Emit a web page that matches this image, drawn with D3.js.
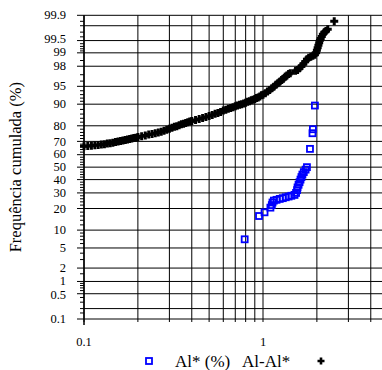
<!DOCTYPE html>
<html>
<head>
<meta charset="utf-8">
<script src="https://cdn.jsdelivr.net/npm/d3@7"></script>
<style>
  body { margin: 0; background: #fff; }
</style>
</head>
<body>
<div id="chart"></div>
<script>
// Al-Al* (black crosses): value and cumulative frequency (%)
const alAlX = [0.100, 0.105, 0.110, 0.115, 0.120, 0.125, 0.130, 0.135, 0.140, 0.145,
  0.150, 0.155, 0.160, 0.165, 0.170, 0.175, 0.180, 0.185, 0.190, 0.195,
  0.200, 0.210, 0.220, 0.230, 0.240, 0.250, 0.260, 0.270, 0.280, 0.290,
  0.300, 0.310, 0.320, 0.330, 0.340, 0.350, 0.360, 0.370, 0.380, 0.390,
  0.400, 0.420, 0.440, 0.460, 0.480, 0.500, 0.520, 0.540, 0.560, 0.580,
  0.600, 0.620, 0.640, 0.660, 0.680, 0.700, 0.720, 0.740, 0.760, 0.780,
  0.800, 0.820, 0.840, 0.860, 0.880, 0.900, 0.920, 0.940, 0.960, 0.980,
  1.00, 1.03, 1.06, 1.09, 1.12, 1.15, 1.18, 1.21, 1.24, 1.27,
  1.30, 1.33, 1.36, 1.39, 1.42, 1.52, 1.56, 1.60, 1.64, 1.68,
  1.72, 1.76, 1.80, 1.85, 1.90, 1.95, 1.98, 2.00, 2.02, 2.04,
  2.06, 2.08, 2.10, 2.13, 2.16, 2.20, 2.25, 2.30, 2.50];
const alAlP = [66.5, 66.6, 66.9, 67.3, 67.4, 67.7, 68.0, 68.4, 68.7, 69.0,
  69.5, 69.9, 70.3, 70.6, 71.0, 71.3, 71.6, 72.0, 72.3, 72.6,
  73.0, 73.5, 74.0, 74.6, 75.0, 75.5, 76.0, 76.5, 77.0, 77.7,
  78.3, 78.8, 79.4, 79.8, 80.3, 80.8, 81.2, 81.6, 82.0, 82.3,
  82.6, 83.1, 83.6, 84.1, 84.6, 85.1, 85.6, 86.1, 86.5, 86.9,
  87.5, 87.9, 88.3, 88.6, 88.9, 89.2, 89.5, 89.8, 90.0, 90.2,
  90.5, 90.8, 91.0, 91.3, 91.5, 91.7, 92.0, 92.2, 92.5, 92.8,
  93.0, 93.4, 93.8, 94.2, 94.6, 94.9, 95.3, 95.6, 95.9, 96.2,
  96.4, 96.7, 96.9, 97.1, 97.2, 97.5, 97.6, 97.8, 98.0, 98.2,
  98.4, 98.6, 98.7, 98.76, 98.83, 98.89, 99.0, 99.13, 99.24, 99.34,
  99.43, 99.51, 99.56, 99.61, 99.66, 99.70, 99.72, 99.75, 99.85];

// Al* (%) (blue squares)
const alStarX = [0.79, 0.95, 1.02, 1.10, 1.12, 1.13, 1.15, 1.19, 1.24, 1.29,
  1.34, 1.39, 1.44, 1.50, 1.53, 1.55, 1.56, 1.58, 1.60, 1.62,
  1.64, 1.66, 1.69, 1.73, 1.76, 1.83, 1.89, 1.90, 1.95];
const alStarP = [7.1, 16.0, 17.9, 20.5, 22.0, 23.6, 24.8, 25.3, 25.9, 26.4,
  27.0, 27.5, 28.0, 28.6, 30.0, 32.0, 34.0, 36.0, 38.0, 40.0,
  42.0, 44.0, 46.0, 48.0, 50.0, 64.5, 75.5, 78.0, 89.5];

const yTickLabels = [99.9, 99.5, 99, 98, 95, 90, 80, 70, 60, 50, 40, 30, 20, 10, 5, 2, 1, 0.5, 0.1];
const yGridValues = [99.9, 99.8, 99.5, 99, 98, 95, 90, 80, 70, 60, 50, 40, 30, 20, 10, 5, 2, 1, 0.5, 0.2, 0.1];
const yMinorTicks = [99.85, 99.8, 99.7, 99.6, 99.4, 99.3, 99.2, 99.1, 98.5, 97, 96, 94, 93, 92, 91,
  88, 86, 84, 82, 78, 76, 74, 72, 68, 66, 64, 62, 58, 56, 54, 52, 48, 46, 44, 42, 38, 36, 34, 32,
  28, 26, 24, 22, 18, 16, 14, 12, 9, 8, 7, 6, 4, 3, 1.5, 0.9, 0.8, 0.7, 0.6, 0.4, 0.3, 0.2, 0.15];
const xTickLabels = [0.1, 1];
const xGridValues = [0.1, 0.2, 0.3, 0.4, 0.5, 0.6, 0.7, 0.8, 0.9, 1, 2, 3, 4, 5];
const legendLabels = ['Al* (%)', 'Al-Al*'];

const width = 382;
const height = 370;
const plot = {left: 84, top: 15.3, bottom: 319};
const serif = '"Liberation Serif", "Times New Roman", Times, serif';

// small label nudges where neighbouring probability labels crowd each other
const labelNudge = {99.5: -1.5, 99: -1, 60: -0.6, 50: -0.4, 40: 0.6, 1: -0.5, 0.5: 0.8};

/**
 * Inverse of the standard normal CDF (Acklam), used for the probability axis
 */
function probit(p) {
  const a = [-39.69683028665376, 220.9460984245205, -275.9285104469687, 138.357751867269, -30.66479806614716, 2.506628277459239];
  const b = [-54.47609879822406, 161.5858368580409, -155.6989798598866, 66.80131188771972, -13.28068155288572];
  const c = [-0.007784894002430293, -0.3223964580411365, -2.400758277161838, -2.549732539343734, 4.374664141464968, 2.938163982698783];
  const d = [0.007784695709041462, 0.3224671290700398, 2.445134137142996, 3.754408661907416];
  const pl = 0.02425;
  let q, r;
  if (p < pl) {
    q = Math.sqrt(-2 * Math.log(p));
    return (((((c[0] * q + c[1]) * q + c[2]) * q + c[3]) * q + c[4]) * q + c[5]) /
      ((((d[0] * q + d[1]) * q + d[2]) * q + d[3]) * q + 1);
  }
  if (p > 1 - pl) {
    q = Math.sqrt(-2 * Math.log(1 - p));
    return -(((((c[0] * q + c[1]) * q + c[2]) * q + c[3]) * q + c[4]) * q + c[5]) /
      ((((d[0] * q + d[1]) * q + d[2]) * q + d[3]) * q + 1);
  }
  q = p - 0.5;
  r = q * q;
  return (((((a[0] * r + a[1]) * r + a[2]) * r + a[3]) * r + a[4]) * r + a[5]) * q /
    (((((b[0] * r + b[1]) * r + b[2]) * r + b[3]) * r + b[4]) * r + 1);
}

const x = d3.scaleLog().domain([0.1, 5]).range([plot.left, plot.left + 179 * Math.log10(50)]);
const z = d3.scaleLinear().domain([probit(0.001), probit(0.999)]).range([plot.bottom, plot.top]);
const y = p => z(probit(p / 100));

const svg = d3.select('#chart')
  .append('svg')
  .attr('width', width)
  .attr('height', height)
  .attr('font-family', serif);

// Grid lines
svg.append('g')
  .selectAll('line')
  .data(yGridValues)
  .enter()
  .append('line')
  .attr('x1', plot.left)
  .attr('x2', width)
  .attr('y1', d => y(d))
  .attr('y2', d => y(d))
  .attr('stroke', '#000')
  .attr('stroke-width', 1);

svg.append('g')
  .selectAll('line')
  .data(xGridValues)
  .enter()
  .append('line')
  .attr('x1', d => x(d))
  .attr('x2', d => x(d))
  .attr('y1', plot.top)
  .attr('y2', plot.bottom + 3)
  .attr('stroke', '#000')
  .attr('stroke-width', 1);

// y axis line, ticks and labels
const yAxis = svg.append('g');
yAxis.append('line')
  .attr('x1', plot.left).attr('x2', plot.left)
  .attr('y1', plot.top).attr('y2', plot.bottom + 6)
  .attr('stroke', '#000').attr('stroke-width', 1.5);

yAxis.selectAll('.minor')
  .data(yMinorTicks)
  .enter()
  .append('line')
  .attr('x1', plot.left - 4).attr('x2', plot.left)
  .attr('y1', d => y(d)).attr('y2', d => y(d))
  .attr('stroke', '#000');

yAxis.selectAll('.major')
  .data(yTickLabels)
  .enter()
  .append('line')
  .attr('x1', plot.left - 7).attr('x2', plot.left)
  .attr('y1', d => y(d)).attr('y2', d => y(d))
  .attr('stroke', '#000');

yAxis.selectAll('text')
  .data(yTickLabels)
  .enter()
  .append('text')
  .attr('x', plot.left - 18)
  .attr('y', d => y(d) + (labelNudge[d] || 0))
  .attr('dy', '0.33em')
  .attr('text-anchor', 'end')
  .attr('font-size', 12.5)
  .text(d => d);

svg.append('text')
  .attr('transform', `translate(21, ${y(50)}) rotate(-90)`)
  .attr('text-anchor', 'middle')
  .attr('font-size', 16.5)
  .text('Frequência cumulada (%)');

// x axis labels
svg.append('g')
  .selectAll('text')
  .data(xTickLabels)
  .enter()
  .append('text')
  .attr('x', d => x(d))
  .attr('y', 346)
  .attr('text-anchor', 'middle')
  .attr('font-size', 12.5)
  .text(d => d);

// Series
const cross = 'M-4,0H4M0,-4V4';

svg.append('g')
  .selectAll('path')
  .data(d3.zip(alAlX, alAlP))
  .enter()
  .append('path')
  .attr('transform', d => `translate(${x(d[0])},${y(d[1])})`)
  .attr('d', cross)
  .attr('stroke', '#000')
  .attr('stroke-width', 3);

svg.append('g')
  .selectAll('rect')
  .data(d3.zip(alStarX, alStarP))
  .enter()
  .append('rect')
  .attr('x', d => x(d[0]) - 3)
  .attr('y', d => y(d[1]) - 3)
  .attr('width', 6)
  .attr('height', 6)
  .attr('fill', 'none')
  .attr('stroke', '#0000ff')
  .attr('stroke-width', 1.8);

// Legend
const legend = svg.append('g');
legend.append('rect')
  .attr('x', 146).attr('y', 358)
  .attr('width', 6).attr('height', 6)
  .attr('fill', 'none')
  .attr('stroke', '#0000ff')
  .attr('stroke-width', 1.8);
legend.selectAll('text')
  .data(legendLabels)
  .enter()
  .append('text')
  .attr('x', (d, i) => i === 0 ? 175 : 242)
  .attr('y', 366.5)
  .attr('font-size', 17)
  .text(d => d);
legend.append('path')
  .attr('transform', 'translate(321,361)')
  .attr('d', 'M-3.5,0H3.5M0,-3.5V3.5')
  .attr('stroke', '#000')
  .attr('stroke-width', 2.6);
</script>
</body>
</html>
